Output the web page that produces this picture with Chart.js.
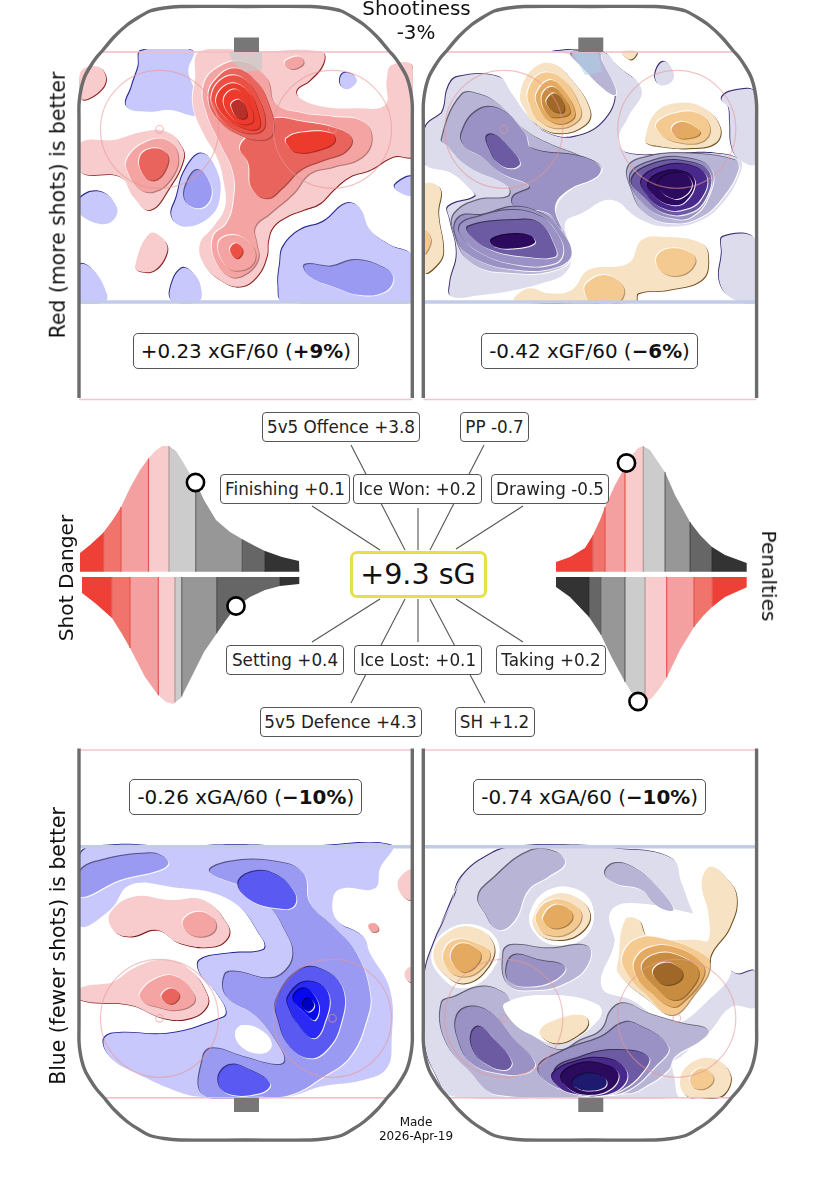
<!DOCTYPE html>
<html><head><meta charset="utf-8">
<script src="https://cdn.jsdelivr.net/npm/chart.js@4"></script>
<style>
html,body{margin:0;padding:0;background:#fff;width:824px;height:1186px;overflow:hidden}
#wrap{position:relative;width:824px;height:1186px;font-family:"DejaVu Sans",sans-serif;color:#111;filter:blur(.45px)}
canvas{position:absolute;left:0;top:0}
.t{position:absolute;white-space:nowrap;transform:translate(-50%,-50%);line-height:1}
.box{position:absolute;box-sizing:border-box;background:#fff;border:1px solid #555;border-radius:4px;display:flex;align-items:center;justify-content:center;white-space:nowrap;font-size:16.8px;color:#222}
.stat{font-size:19.9px;border-radius:5px;color:#111}
</style></head><body><div id="wrap"><canvas id="c" width="824" height="1186"></canvas></div>
<script>
const topLeftContours=[
[-1,[215,152,368,152,355,210,368,255,385,290,385,345,300,330,235,335,170,320,185,260,205,200]],
[1,[32,215,85,200,108,240,75,285,32,295]],
[-1,[820,220,850,225,860,245,830,268,810,250]],
[-1,[975,555,1028,530,1028,585,985,575]],
[-1,[640,740,690,690,760,665,830,610,870,625,900,690,960,735,1028,770,1028,905,640,905,625,860,630,790]],
[-2,[705,795,780,800,860,780,945,805,970,835,945,875,870,885,790,860,720,830]],
[-1,[30,595,90,575,140,620,130,660,90,672,30,640]],
[-1,[30,795,70,810,110,880,105,905,30,905]],
[-1,[300,870,335,805,375,825,395,875,385,905,310,905]],
[1,[195,800,240,700,285,725,290,760,255,810,215,815]],
[-1,[395,460,440,510,450,590,420,650,345,680,305,650,320,590,345,510]],
[-2,[385,510,420,550,420,600,385,625,345,600,355,540]],
[1,[30,430,130,420,220,395,290,395,335,440,340,480,300,560,240,630,190,590,150,530,30,515]],
[2,[170,480,220,430,290,420,325,470,300,540,250,575,205,565,175,520]],
[3,[210,470,250,445,290,460,290,500,255,540,220,525]],
[1,[390,155,560,155,755,155,760,190,720,240,680,270,690,295,760,320,860,325,945,315,950,240,965,195,1028,200,1028,465,970,470,900,510,840,530,790,570,750,610,700,630,650,650,610,680,595,720,590,770,560,830,510,860,450,840,400,790,390,730,430,680,465,620,460,540,440,470,400,400,370,320,375,240]],
[2,[650,180,690,170,700,190,670,207,645,195]],
[2,[400,260,440,205,520,185,590,235,615,310,700,340,790,350,880,365,905,420,870,475,790,500,720,520,670,580,600,640,555,680,560,730,565,775,530,820,480,830,435,780,430,710,470,670,490,610,490,520,450,430,410,340]],
[2,[445,730,490,705,545,735,555,780,520,810,470,800]],
[4,[480,750,498,730,518,752,500,775]],
[3,[610,355,700,365,800,385,845,415,825,455,760,480,690,510,640,560,590,595,545,565,535,490,510,440,560,390]],
[5,[650,415,700,397,785,400,793,425,745,450,680,457,652,435]],
[3,[415,290,440,235,495,205,555,240,595,310,610,395,575,420,500,400,440,355]],
[4,[425,285,465,232,520,235,565,295,585,375,555,400,490,385,440,340]],
[5,[440,290,485,250,535,275,565,340,565,385,510,380,455,340]],
[5,[462,295,495,268,530,300,550,360,515,372,475,340]],
[6,[485,310,510,300,530,335,525,355,500,350,487,330]]];
const topRightContours=[
[-1,[30,385,80,340,100,260,130,230,250,230,290,280,340,350,400,400,480,410,570,360,600,270,540,225,480,170,415,155,560,155,610,200,680,270,640,350,610,420,640,460,800,460,900,460,975,480,975,520,930,600,860,660,760,680,680,660,590,600,500,640,450,670,470,760,450,820,380,850,300,870,200,885,110,890,105,850,125,760,105,660,100,620,180,590,170,570,110,520,30,490]],
[-1,[925,710,1022,720,1022,905,960,900,915,850,920,760]],
[-1,[920,295,955,272,1022,280,1022,490,975,480,950,440,945,370,940,320]],
[-1,[720,225,745,185,775,215,770,245,735,255]],
[-2,[470,160,555,160,560,180,600,260,600,285,570,270,510,210]],
[-2,[80,420,140,285,200,285,260,320,330,390,400,430,500,470,560,500,540,530,460,570,420,630,450,700,470,770,420,810,300,820,170,790,115,690,120,640,190,600,280,590,280,560,160,500,100,440]],
[-3,[140,400,190,330,260,330,330,400,350,445,500,470,555,500,545,530,460,570,420,620,440,690,400,640,300,620,295,590,345,560,260,520,200,470,150,440]],
[-3,[135,650,200,645,300,620,380,640,430,680,470,760,430,800,310,810,170,770,120,700]],
[-3,[140,670,190,650,290,630,380,650,420,690,445,750,420,790,310,795,190,755,135,700]],
[-4,[160,680,300,660,375,670,420,740,420,770,330,770,230,750,170,710]],
[-6,[230,720,290,703,350,710,358,730,300,745,240,740]],
[-4,[215,410,240,405,290,450,315,490,290,505,250,490,225,450]],
[-2,[640,500,700,470,800,460,960,480,970,510,925,590,860,650,770,670,690,640,650,570]],
[-3,[645,530,720,480,820,475,890,510,880,590,830,650,770,655,695,620]],
[-4,[650,540,720,490,820,485,885,520,870,600,820,640,750,640,695,600]],
[-5,[680,540,740,500,820,495,875,530,855,600,800,630,745,625,700,590]],
[-6,[700,550,750,515,820,520,840,550,810,605,770,615,720,590]],
[-6,[730,545,770,520,815,525,830,560,795,595,760,590,735,570]],
[1,[315,285,350,210,410,190,470,240,525,330,510,375,430,400,360,370,330,330]],
[2,[340,270,380,220,440,235,495,320,490,360,430,385,370,360,345,320]],
[3,[365,280,405,240,440,265,480,340,450,370,400,360,370,320]],
[4,[380,290,410,260,440,285,465,335,440,350,400,345]],
[5,[395,300,420,280,445,310,445,335,420,335,400,320]],
[1,[690,415,720,340,780,310,860,320,915,380,900,430,820,445,740,440,695,430]],
[2,[725,370,780,340,850,340,885,385,860,425,780,425,735,400]],
[3,[770,385,800,365,840,380,855,400,820,415,785,410]],
[1,[28,555,75,565,70,640,85,750,70,790,28,815]],
[2,[28,690,48,720,28,760]],
[1,[300,890,345,865,400,880,470,870,520,810,640,790,680,720,740,710,860,730,880,780,860,840,760,870,670,880,660,905,300,905]],
[2,[725,770,770,745,830,760,840,790,800,825,740,815]],
[2,[515,850,570,825,625,860,610,905,530,905,510,880]],
[1,[620,155,665,155,650,178,630,170]]];
const bottomLeftContours=[
[-1,[30,345,120,316,300,320,500,315,700,320,965,316,930,385,915,445,820,445,790,470,800,540,880,590,900,640,960,750,965,900,950,985,880,1020,750,1040,650,1070,390,1070,310,1050,200,1000,130,960,100,905,130,880,300,880,440,840,470,820,440,760,390,700,390,660,480,640,580,630,580,600,480,480,300,440,180,435,120,510,30,555]],
[1,[120,520,190,470,300,480,400,480,470,550,475,590,430,620,330,610,260,570,180,590,130,570]],
[2,[340,540,385,515,430,535,435,570,395,590,350,575]],
[1,[30,745,120,730,200,680,290,660,360,690,410,760,410,800,360,835,280,835,180,795,30,780]],
[2,[210,760,260,715,320,710,370,760,370,790,320,810,260,800,220,785]],
[3,[275,765,305,745,328,765,310,790,285,785]],
[1,[985,420,1028,390,1028,478,995,465]],
[2,[895,555,915,550,925,570,905,575]],
[1,[1005,695,1028,680,1028,725,1010,720]],
[-2,[30,395,100,360,240,340,280,350,295,370,270,390,150,420,30,470]],
[-2,[420,395,480,365,620,365,700,400,720,490,800,570,860,640,900,760,890,840,840,950,760,1010,660,1065,560,1070,400,1065,400,950,430,925,520,950,620,975,645,965,630,920,560,830,470,770,465,705,500,695,600,715,650,690,670,640,650,580,600,500,520,440]],
[0,[495,880,520,855,580,875,605,915,580,940,520,925]],
[-3,[505,430,550,395,620,405,675,460,670,500,620,505,540,480]],
[-3,[445,1015,480,975,540,990,600,1030,570,1060,470,1060]],
[-3,[620,780,690,690,760,690,820,750,810,860,770,930,720,955,660,920,625,840]],
[-4,[655,770,710,725,775,760,760,860,730,895,690,860,660,810]],
[-5,[670,775,705,745,745,790,735,840,705,820]],
[-6,[698,795,715,775,733,795,715,815]]];
const bottomRightContours=[
[-1,[110,490,140,410,230,340,300,320,450,315,600,325,770,355,800,430,835,520,880,600,960,700,1022,695,1022,800,950,800,880,880,820,930,780,980,790,1070,120,1070,60,1000,28,900,28,710,60,600]],
[0,[585,520,640,490,830,520,890,540,950,680,880,780,770,850,650,780,560,740,600,600]],
[0,[345,520,400,450,490,450,535,510,510,590,420,615,360,580]],
[0,[50,640,90,575,180,555,250,610,225,700,140,745,70,700]],
[0,[780,960,890,950,950,1000,945,1070,800,1075,780,1020]],
[-2,[190,470,230,420,340,335,420,335,450,370,400,410,340,450,300,540,250,570,210,520]],
[-2,[570,400,600,370,660,385,740,455,775,510,730,500,680,450,600,430]],
[-2,[265,640,290,615,400,625,520,620,515,680,450,730,370,750,280,735]],
[-3,[275,680,300,645,370,660,450,680,420,720,340,740,285,725]],
[-2,[80,790,120,770,200,740,270,760,290,790,330,860,430,930,500,900,560,870,590,810,630,790,700,820,800,850,880,870,860,900,780,950,760,990,690,1040,640,1060,250,1065,170,1000,90,900]],
[0,[270,790,400,765,550,795,550,840,440,910,340,880,280,830]],
[-3,[125,830,165,800,230,820,300,900,360,970,330,1000,250,1000,170,970,130,900]],
[-4,[170,880,195,860,240,900,290,965,270,990,210,970,175,930]],
[-3,[370,985,450,930,560,890,620,850,660,850,760,920,720,980,640,1050,560,1065,430,1045]],
[-4,[420,990,500,950,600,930,700,950,680,1000,620,1050,560,1065,450,1040]],
[-5,[415,1000,480,965,570,955,630,985,630,1030,570,1065,470,1060,420,1030]],
[-6,[440,1005,500,970,570,975,610,1000,590,1045,520,1065,460,1045]],
[-7,[475,1020,520,1000,570,1015,570,1040,520,1052,480,1040]],
[1,[355,530,400,470,470,465,525,520,495,580,420,600,365,575]],
[2,[365,520,410,480,470,490,500,530,460,580,400,585,370,560]],
[3,[385,530,420,495,465,510,470,540,430,565,395,555]],
[1,[55,640,95,580,170,560,235,610,220,680,150,730,85,700]],
[2,[85,640,120,600,185,610,225,640,195,690,145,710,100,690]],
[3,[108,640,140,610,190,630,195,660,155,695,120,680]],
[1,[610,660,630,540,670,540,700,590,850,600,880,600,880,520,860,430,885,380,930,410,965,470,945,560,890,640,880,690,820,780,770,825,700,780,610,700]],
[2,[625,640,670,595,740,595,860,640,885,680,840,760,770,825,690,760,630,690]],
[3,[660,660,710,620,790,625,860,670,865,710,810,780,770,800,700,750,665,710]],
[4,[680,680,730,640,800,650,850,690,830,745,780,780,720,740]],
[5,[715,690,750,668,795,685,800,715,760,735,725,720]],
[1,[795,1030,820,975,890,955,945,1000,930,1060,880,1075,820,1070]],
[2,[825,1015,860,985,895,1010,880,1040,840,1045]],
[1,[375,870,420,840,500,825,520,850,490,885,430,910,385,895]]];

// danger / penalty distributions: curve samples and band edges
const shotTopCurve=[80,553,90,545,103,533,112,521,121,507,130,488,140,470,148,459,155,451,162,446,169,446,176,451,183,462,190,474,196,483,204,500,216,520,230,532,242,539,255,546,265,551,282,557,299,561];
const shotTopEdges=[80,103.5,121,148.5,169,195.7,242.3,265,299.3];
const shotBottomCurve=[82,593,95,603,112,618,122,634,130,648,145,677,158,695,166,702,173,704,181,698,190,680,204,652,217,633,226,620,236,607,250,597,265,590,280,586,299,584];
const shotBottomEdges=[82,111.7,130,158.3,175,181.7,216.7,280,299.3];
const penTopCurve=[556,562,570,557,585,548,593,535,600,520,605,507,615,485,625,467,632,455,638,448,643,446,650,450,658,462,665,472,675,495,690,522,700,535,712,547,725,555,747,563];
const penTopEdges=[556,592.7,605,625,643.3,665,690,711.7,746.7];
const penBottomCurve=[556,587,570,597,589,617,601,635,612,658,625,682,633,695,640,703,645,703,652,698,660,688,667,677,680,650,694,627,703,616,712,607,725,597,747,587];
const penBottomEdges=[556,589,600.7,625,645,666.7,694,712.3,746.7];
const markers=[[195.5,482.5],[236,606],[626.5,463],[638,701.5]];
// connector lines from the sG badge to the component labels
const connectors=[[351,445,405,550],[405,599,351,703],[484,445,430,550],[430,599,485,703],[418,508,418,550],[418,599,418,642],[312,506,380,550],[523,506,456,549],[380,599,312,642],[456,599,523,642]];
const rinkArch=[0,398,0,300,0,200,0,120,0,105,1,95,3,85,6,76,11,67,17,58,24,50,35,37,48,25,60,17,71,11,85,8,101,6.5,166.6,6.5,232.3,6.5,248.3,8,262.3,11,273.3,17,285.3,25,298.3,37,309.3,50,316.3,58,322.3,67,327.3,76,330.3,85,332.3,95,333.3,105,333.3,120,333.3,200,333.3,300,333.3,398];

const redBlue={0:'#ffffff',1:'#f8cccc',2:'#f4a4a2',3:'#e8645c',4:'#ec5044',5:'#ec3a2c',6:'#b8302a','-1':'#c8c8fc','-2':'#9a9af2','-3':'#5a5af2','-4':'#2a2af4','-5':'#0808f0','-6':'#0000c0'};
const orangePurple={0:'#ffffff',1:'#f8e2c4',2:'#f5ca90',3:'#e4aa60',4:'#c88c40',5:'#a06828','-1':'#dcdcec','-2':'#b8b4d6','-3':'#9a92c4','-4':'#6c5aa2','-5':'#48288a','-6':'#2c0a5e','-7':'#1e1a70'};
const bandWarm=['#ee4036','#f0736c','#f4a0a0','#f8cccc','#cccccc','#979797','#666666','#333333'];
const bandRev=['#333333','#666666','#979797','#cccccc','#f8cccc','#f4a0a0','#f0736c','#ee4036'];

const ds=[];
function pts(flat,f){const o=[];for(let i=0;i<flat.length;i+=2)o.push(f(flat[i],flat[i+1]));return o;}
function shade(hex,f){const n=parseInt(hex.slice(1),16);return 'rgb('+[(n>>16)&255,(n>>8)&255,n&255].map(v=>Math.round(v*f)).join(',')+')';}
function shape(p,color,dx,dy,clipBox){
  const s=p.map(q=>({x:q.x+dx,y:q.y+dy}));
  const n=s.length;
  ds.push({clipBox,data:[s[n-1],...s,s[0],s[1]],showLine:true,tension:.42,fill:'shape',backgroundColor:color,borderColor:color,borderWidth:0,pointRadius:0});
}
function contours(list,ox,oy,pal,darkWarm,darkCool,clipBox){
  list.forEach(([lvl,flat])=>{
    const p=pts(flat,(x,y)=>({x:ox+x/3,y:oy+y/3}));
    if(lvl!==0){
      const s=lvl>0?1:-1, outer=Math.abs(lvl)===1;
      const dark=outer?(lvl>0?darkWarm:darkCool):shade(pal[lvl],lvl>0?.74:.55);
      const d=outer?.85:1;
      shape(p,dark,d*s,d*s,clipBox);
      shape(p,'rgba(255,255,255,.9)',-.9*s,-.9*s,clipBox);
    }else{ shape(p,'#ffffff',0,0,clipBox); }
    shape(p,pal[lvl],0,0,clipBox);
  });
}
function seg(x1,y1,x2,y2,color,w){ds.push({data:[{x:x1,y:y1},{x:x2,y:y2}],showLine:true,tension:0,fill:false,borderColor:color,borderWidth:w,pointRadius:0});}
function poly(p,color){ds.push({data:p.concat([p[0]]),showLine:true,tension:0,fill:'shape',backgroundColor:color,borderColor:color,borderWidth:0,pointRadius:0});}
function rink(ox,top){
  const fy=y=>top?y:1146.5-y;
  const blue=top?302:846.7, pinkNear=top?52:1097.7, pinkFar=top?399.5:750, cy=top?129.3:1018.3;
  seg(ox,blue,ox+333.3,blue,'#c2cbe8',3.5);
  seg(ox+24,pinkNear,ox+309,pinkNear,'#f0bcc6',1.6);
  seg(ox,pinkFar,ox+333.3,pinkFar,'#f4c6ca',1.4);
  [80.5,253.5].forEach(dx=>{
    ds.push({data:[{x:ox+dx,y:cy}],showLine:false,pointRadius:59,pointBackgroundColor:'rgba(0,0,0,0)',pointBorderColor:'rgba(232,150,150,.55)',pointBorderWidth:1.2});
    ds.push({data:[{x:ox+dx,y:cy}],showLine:false,pointRadius:3.8,pointBackgroundColor:'rgba(0,0,0,0)',pointBorderColor:'rgba(232,150,150,.6)',pointBorderWidth:1.2});
  });
  const g=[[155,top?37.5:pinkNear],[180,top?37.5:pinkNear],[180,top?pinkNear:1112],[155,top?pinkNear:1112]].map(a=>({x:ox+a[0],y:a[1]}));
  poly(g,'#777777');
  ds.push({data:pts(rinkArch,(x,y)=>({x:ox+x,y:fy(y)})),showLine:true,tension:.3,fill:false,borderColor:'#6c6c6c',borderWidth:3.4,pointRadius:0,borderCapStyle:'butt'});
}
function curveAt(c,x){
  for(let i=0;i<c.length-1;i++){ if(x>=c[i].x-1e-6&&x<=c[i+1].x+1e-6){const t=(x-c[i].x)/(c[i+1].x-c[i].x||1);return c[i].y+t*(c[i+1].y-c[i].y);} }
  return x<c[0].x?c[0].y:c[c.length-1].y;
}
function violin(flat,edges,base,colors){
  const c=pts(flat,(x,y)=>({x,y}));
  for(let b=0;b<colors.length;b++){
    const l=edges[b],r=edges[b+1];
    const top=[{x:l,y:curveAt(c,l)},...c.filter(q=>q.x>l&&q.x<r),{x:r,y:curveAt(c,r)}];
    const p=[{x:l,y:base},...top,{x:r,y:base}];
    poly(p,colors[b]);
  }
  for(let b=1;b<colors.length;b++){
    const x=edges[b];
    const warm=['#ee4036','#f0736c','#f4a0a0'].includes(colors[b-1])||['#ee4036','#f0736c','#f4a0a0'].includes(colors[b]);
    const pale=(colors[b-1]==='#f8cccc'&&colors[b]==='#cccccc')||(colors[b]==='#f8cccc'&&colors[b-1]==='#cccccc');
    seg(x,base,x,curveAt(c,x),pale?'#b09a9a':(warm?'#e25850':'rgba(40,40,40,.55)'),1.2);
  }
}
const tl=[79.5,49,412.5,304], tr=[424,49,756.5,304], bl=[79.5,842,412.5,1099], br=[424,842,756.5,1099];
contours(topLeftContours,70,0,redBlue,'#8a2020','#2a2a90',tl);
contours(topRightContours,415,0,orangePurple,'#6e5020','#3c2c70',tr);
contours(bottomLeftContours,70,740,redBlue,'#7a1a1a','#202090',bl);
contours(bottomRightContours,415,740,orangePurple,'#6e5020','#3c2c70',br);
poly([{x:229,y:52},{x:262,y:52},{x:262,y:70},{x:245,y:72},{x:232,y:62}],'rgba(200,200,200,.7)');
poly([{x:572,y:52},{x:598,y:52},{x:602,y:72},{x:585,y:75}],'rgba(170,210,230,.55)');
rink(79,true);rink(423.3,true);rink(79,false);rink(423.3,false);
violin(shotTopCurve,shotTopEdges,571.7,bandWarm);
violin(shotBottomCurve,shotBottomEdges,577,bandWarm);
violin(penTopCurve,penTopEdges,571.7,bandWarm);
violin(penBottomCurve,penBottomEdges,577,bandRev);
connectors.forEach(a=>seg(a[0],a[1],a[2],a[3],'#555555',1.1));
markers.forEach(m=>ds.push({data:[{x:m[0],y:m[1]}],showLine:false,pointRadius:8.6,pointBackgroundColor:'#fff',pointBorderColor:'#000',pointBorderWidth:2.6}));

// keeps each contour inside its own rink panel (the filler hook runs first, so clip is switched between datasets)
let clipOpen=false;
function openClip(chart,meta){
  const b=meta&&chart.data.datasets[meta.index].clipBox;
  if(!b)return;
  const ctx=chart.ctx;ctx.save();ctx.beginPath();ctx.rect(b[0],b[1],b[2]-b[0],b[3]-b[1]);ctx.clip();clipOpen=true;
}
function closeClip(chart){if(clipOpen){chart.ctx.restore();clipOpen=false;}}
const panelClip={id:'panelClip',
  beforeDatasetsDraw(chart){const m=chart.getSortedVisibleDatasetMetas();this._m=m;this._i=m.length-1;openClip(chart,m[this._i]);},
  afterDatasetDraw(chart){closeClip(chart);this._i--;openClip(chart,this._m[this._i]);},
  afterDatasetsDraw(chart){closeClip(chart);}};

new Chart(document.getElementById('c'),{type:'scatter',
 data:{datasets:ds.reverse()},
 plugins:[panelClip],
 options:{responsive:false,animation:false,events:[],devicePixelRatio:1,
  layout:{padding:0,autoPadding:false},
  plugins:{legend:{display:false},tooltip:{enabled:false},title:{display:false}},
  scales:{x:{type:'linear',min:0,max:824,display:false},y:{type:'linear',min:0,max:1186,reverse:true,display:false}}}});

// text
const statLabels=[['+0.23 xGF/60 (<b>+9%</b>)',132.7,333,226.3,36],['-0.42 xGF/60 (<b>\u22126%</b>)',480.7,333,217.6,36],['-0.26 xGA/60 (<b>\u221210%</b>)',129.3,779,233,36],['-0.74 xGA/60 (<b>\u221210%</b>)',473.3,779,232.7,36]];
const compLabels=[['5v5 Offence +3.8',262,411.5,158,30],['PP -0.7',460,411.5,69,30],['Finishing +0.1',220,474,130,29.5],['Ice Won: +0.2',353,474,129,29.5],['Drawing -0.5',491,474,118,30],['Setting +0.4',226,645,118,29.5],['Ice Lost: +0.1',354,645,128,29.5],['Taking +0.2',496,645,110,29.5],['5v5 Defence +4.3',259.5,706.5,162,30.5],['SH +1.2',454.5,706.5,80,30.5]];
const freeText=[['Shootiness',416.5,8.5,19.9,0],['-3%',416,33,19.9,0],['Red (more shots) is better',58,204.5,20.4,-90],['Blue (fewer shots) is better',58,946,20.4,-90],['Shot Danger',65.5,578,20.2,-90],['Penalties',769,576,20.2,90],['Made',416,1122,12,0],['2026-Apr-19',416,1136,12,0]];
const wrap=document.getElementById('wrap');
function box(a,cls){const d=document.createElement('div');d.className=cls;d.innerHTML=a[0];d.style.cssText=`left:${a[1]}px;top:${a[2]}px;width:${a[3]}px;height:${a[4]}px`;wrap.appendChild(d);}
statLabels.forEach(a=>box(a,'box stat'));
compLabels.forEach(a=>box(a,'box'));
freeText.forEach(a=>{const d=document.createElement('div');d.className='t';d.textContent=a[0];d.style.left=a[1]+'px';d.style.top=a[2]+'px';d.style.fontSize=a[3]+'px';d.style.transform=`translate(-50%,-50%) rotate(${a[4]}deg)`;wrap.appendChild(d);});
const sg=document.createElement('div');sg.className='box';sg.textContent='+9.3 sG';sg.style.cssText='left:349.5px;top:550.5px;width:137px;height:47px;font-size:28.6px;border:3px solid #e4e04c;border-radius:7px;color:#111';wrap.appendChild(sg);
</script></body></html>
